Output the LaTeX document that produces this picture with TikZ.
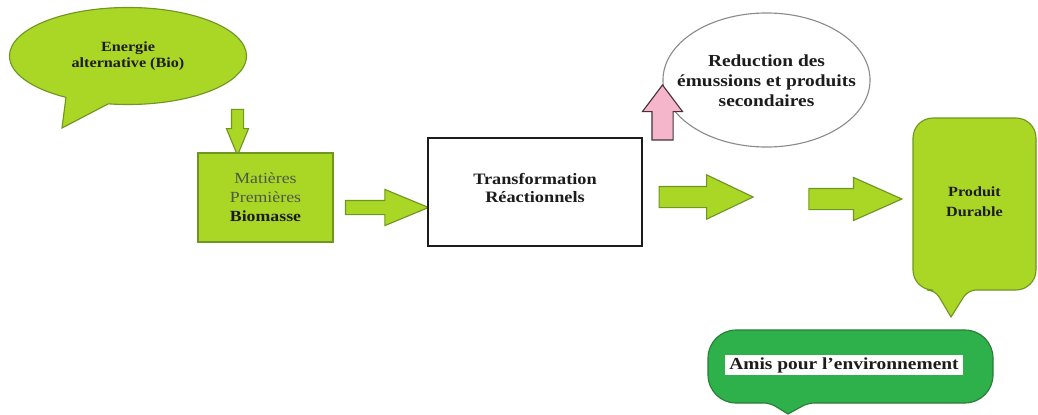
\documentclass[tikz,border=0pt]{standalone}
\usepackage{fontspec}
\setmainfont{Liberation Serif}[FakeStretch=1.15]
\definecolor{lime}{RGB}{170,214,38}
\definecolor{limeedge}{RGB}{112,150,34}
\definecolor{leaf}{RGB}{46,176,74}
\definecolor{leafedge}{RGB}{40,125,55}
\definecolor{rose}{RGB}{245,182,204}
\definecolor{roseedge}{RGB}{70,50,60}
\definecolor{ink}{RGB}{28,28,28}
\definecolor{soft}{RGB}{78,88,70}
\usetikzlibrary{shapes.arrows,shapes.callouts,shapes.geometric,positioning}

\begin{document}
\begin{tikzpicture}[x=0.025cm,y=-0.025cm,
    txt/.style 2 args={font=\fontsize{#1}{#2}\selectfont\bfseries,text=ink,align=center},
    limebox/.style={fill=lime,draw=limeedge,thick},
    blockarrow/.style={single arrow,fill=lime,draw=limeedge,thick,inner xsep=0pt}]
  \useasboundingbox (0,0) rectangle (1038,414);

  % source bubble and raw material
  \node[ellipse callout,limebox,minimum width=5.925cm,minimum height=2.425cm,inner sep=0pt,
        callout absolute pointer={(62,128)},callout pointer arc=22,txt={10}{11.5}] (energie) at (128,56) {Energie\\alternative (Bio)};
  \node[blockarrow,rotate=-90,minimum height=1.15cm,inner ysep=0.1375cm,
        single arrow head extend=0.125cm,single arrow tip angle=45] (adown) at (237.5,125) {};
  \node[limebox,minimum width=3.375cm,minimum height=2.225cm,txt={11}{13.5}] (matieres) at (265.5,197.5)
        {\textcolor{soft}{\mdseries Matières}\\\textcolor{soft}{\mdseries Premières}\\Biomasse};
  \node[blockarrow,minimum height=2.075cm,inner ysep=0.1625cm,
        single arrow head extend=0.275cm,single arrow tip angle=45] (aone) at (378.5,207.5) {};

  % transformation step
  \node[draw=ink,line width=1.1pt,fill=white,minimum width=5.35cm,minimum height=2.7cm] (transfo) at (535,192) {};
  \node[txt={11.3}{13}] (transfotxt) at (535,188) {Transformation\\Réactionnels};
  \node[ellipse,draw=gray!90,thick,fill=white,minimum width=5.175cm,minimum height=3.35cm,inner sep=0pt] (reduc) at (766.5,80) {};
  \node[txt={12}{14.2}] (reductxt) at (766.5,81) {Reduction des\\émussions et produits\\secondaires};
  \node[single arrow,fill=rose,draw=roseedge,thick,inner xsep=0pt,rotate=90,minimum height=1.375cm,
        inner ysep=0.25cm,single arrow head extend=0.2375cm,single arrow tip angle=74] (apink) at (662.5,119.5) {};
  \node[blockarrow,minimum height=2.35cm,inner ysep=0.25cm,
        single arrow head extend=0.29cm,single arrow tip angle=51] (atwo) at (695,197) {};
  \node[blockarrow,minimum height=2.325cm,inner ysep=0.25cm,
        single arrow head extend=0.275cm,single arrow tip angle=48] (athree) at (843.5,199) {};

  % product bubble
  \draw[limebox,rounded corners=0.5cm] (913,118) -- (1036,118) -- (1036,290)
     [rounded corners=0.2cm] -- (968,290) [sharp corners] -- (951,317)
     [rounded corners=0.2cm] -- (935,290) [rounded corners=0.5cm] -- (913,290) -- cycle;
  \node[txt={10}{14.2}] (produit) at (974.5,202) {Produit\\Durable};

  % green label
  \draw[fill=leaf,draw=leafedge,thick,rounded corners=0.7cm] (708,330) -- (993,330) -- (993,403)
     [rounded corners=0.15cm] -- (808,403) [sharp corners] -- (788,414)
     [rounded corners=0.15cm] -- (770,403) [rounded corners=0.7cm] -- (708,403) -- cycle;
  \node[fill=white,inner xsep=3pt,inner ysep=2pt,txt={12}{14}] (amis) at (844,365) {Amis pour l’environnement};
\end{tikzpicture}
\end{document}
